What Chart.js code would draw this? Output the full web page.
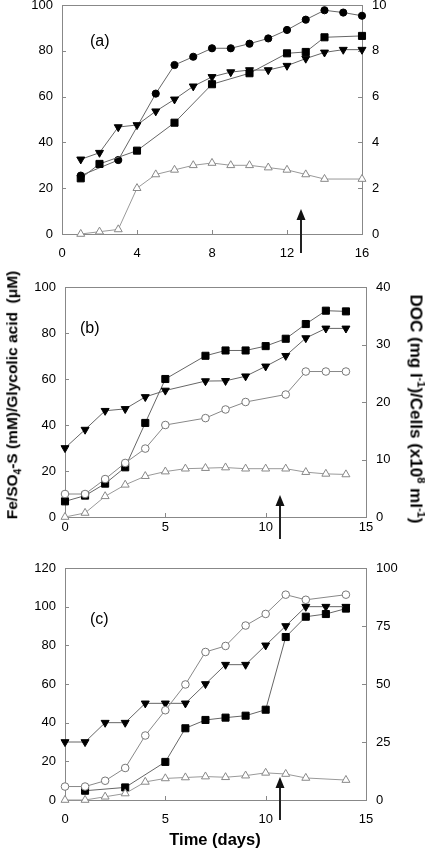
<!DOCTYPE html>
<html>
<head>
<meta charset="utf-8">
<script src="https://cdn.jsdelivr.net/npm/chart.js@4/dist/chart.umd.min.js"></script>
<style>
body { margin: 0; background: #fff; }
#wrap { position: relative; width: 425px; height: 850px; overflow: hidden; background: #fff;
        font-family: 'Liberation Sans', Arial, sans-serif; }
canvas { position: absolute; left: 0; }
.ttl { position: absolute; white-space: nowrap; font-weight: bold; font-size: 15.5px; color: #000;
       line-height: 1; transform-origin: center; }
sub, sup { font-size: 0.65em; line-height: 0; }
#yl { left: 12px; top: 395px; transform: translate(-50%, -50%) rotate(-90deg); }
#yr { left: 416px; top: 409px; font-size: 17px; transform: translate(-50%, -50%) rotate(90deg); }
#xt { left: 215px; top: 839px; font-size: 16.5px; transform: translate(-50%, -50%); }
</style>
</head>
<body>
<div id="wrap">
  <canvas id="ca" width="425" height="289" style="top:-15px"></canvas>
  <canvas id="cb" width="425" height="290" style="top:267px"></canvas>
  <canvas id="cc" width="425" height="292" style="top:548px"></canvas>
  <div class="ttl" id="yl">Fe/SO<sub>4</sub>-S (mM)/Glycolic acid&nbsp; (μM)</div>
  <div class="ttl" id="yr">DOC (mg l<sup>-1</sup>)/Cells (x10<sup>8</sup> ml<sup>-1</sup>)</div>
  <div class="ttl" id="xt">Time (days)</div>
</div>
<script>
// ---- panel (a) ----
const aCircleDays = [1, 3, 5, 6, 7, 8, 9, 10, 11, 12, 13, 14, 15, 16];
const aCircle = [25.5, 32.3, 61.3, 73.8, 77.4, 81.1, 81.1, 83.1, 85.4, 89.1, 93.6, 97.7, 96.7, 95.3];
const aSquareDays = [1, 2, 4, 6, 8, 10, 12, 13, 14, 16];
const aSquare = [24.3, 30.6, 36.4, 48.6, 65.4, 70.2, 78.9, 79.5, 85.9, 86.5];
const aTriDays = [1, 2, 3, 4, 5, 6, 7, 8, 9, 10, 11, 12, 13, 14, 15, 16];
const aTri = [32.6, 35.5, 46.7, 47.6, 53.6, 58.8, 64.5, 68.6, 70.7, 71.6, 71.6, 73.5, 76.6, 79.3, 80.5, 80.5];
const aOpenTriDays = [1, 2, 3, 4, 5, 6, 7, 8, 9, 10, 11, 12, 13, 14, 16];
const aOpenTri = [0, 0.1, 0.2, 2.0, 2.6, 2.8, 3.0, 3.1, 3.0, 3.0, 2.9, 2.8, 2.6, 2.4, 2.4];

// ---- panel (b) ----
const bSquareDays = [0, 1, 2, 3, 4, 5, 7, 8, 9, 10, 11, 12, 13, 14];
const bSquare = [6.8, 9.3, 14.5, 21.6, 40.9, 60.0, 70.1, 72.4, 72.4, 74.3, 77.5, 83.9, 89.7, 89.4];
const bTriDays = [0, 1, 2, 3, 4, 5, 7, 8, 9, 10, 11, 12, 13, 14];
const bTri = [30.0, 38.0, 46.2, 47.0, 52.2, 55.0, 59.1, 59.2, 61.2, 65.5, 70.1, 77.8, 82.0, 82.0];
const bOpenCircleDays = [0, 1, 2, 3, 4, 5, 7, 8, 9, 11, 12, 13, 14];
const bOpenCircle = [4.0, 4.0, 6.6, 9.4, 11.9, 16.0, 17.2, 18.7, 20.0, 21.3, 25.3, 25.3, 25.3];
const bOpenTriDays = [0, 1, 2, 3, 4, 5, 6, 7, 8, 9, 10, 11, 12, 13, 14];
const bOpenTri = [0, 0.7, 3.6, 5.6, 7.1, 7.9, 8.4, 8.5, 8.6, 8.4, 8.4, 8.4, 7.8, 7.5, 7.4];

// ---- panel (c) ----
const cOpenCircleDays = [0, 1, 2, 3, 4, 5, 6, 7, 8, 9, 10, 11, 12, 14];
const cOpenCircle = [5.8, 5.8, 8.3, 13.8, 27.8, 38.7, 49.8, 63.8, 66.4, 75.2, 80.2, 88.5, 86.3, 88.5];
const cTriDays = [0, 1, 2, 3, 4, 5, 6, 7, 8, 9, 10, 11, 12, 13, 14];
const cTri = [30, 30, 40, 40, 50, 50, 50, 60, 70, 70, 80, 90, 100, 100, 100];
const cSquareDays = [1, 3, 5, 6, 7, 8, 9, 10, 11, 12, 13, 14];
const cSquare = [4.8, 6.5, 19.7, 37.1, 41.4, 42.6, 43.6, 46.7, 84.3, 94.8, 96.2, 99.0];
const cOpenTriDays = [0, 1, 2, 3, 4, 5, 6, 7, 8, 9, 10, 11, 12, 14];
const cOpenTri = [0, 0, 1.4, 2.8, 7.8, 9.3, 9.7, 10.1, 9.8, 10.5, 11.7, 11.2, 9.5, 8.6];

const FONT = "'Liberation Sans', Arial, sans-serif";

function pts(days, vals) {
    return days.map((d, i) => ({ x: d, y: vals[i] }));
}

// marker styles
function filledCircle(days, vals) {
    return { data: pts(days, vals), yAxisID: 'y', clip: false, pointStyle: 'circle', pointRadius: 3.6,
             pointBackgroundColor: '#000', pointBorderColor: '#000', borderColor: '#666', borderWidth: 1 };
}
function filledSquare(days, vals) {
    return { data: pts(days, vals), yAxisID: 'y', clip: false, pointStyle: 'rect', pointRadius: 5,
             pointBackgroundColor: '#000', pointBorderColor: '#000', borderColor: '#666', borderWidth: 1 };
}
function filledTriDown(days, vals) {
    return { data: pts(days, vals), yAxisID: 'y', clip: false, pointStyle: 'triangle', pointRotation: 180, pointRadius: 4.6,
             pointBackgroundColor: '#000', pointBorderColor: '#000', borderColor: '#666', borderWidth: 1 };
}
function openTri(days, vals) {
    return { data: pts(days, vals), yAxisID: 'y1', clip: false, pointStyle: 'triangle', pointRadius: 4.6,
             pointBackgroundColor: '#fff', pointBorderColor: '#888', borderColor: '#999', borderWidth: 1 };
}
function openCircle(days, vals) {
    return { data: pts(days, vals), yAxisID: 'y1', clip: false, pointStyle: 'circle', pointRadius: 3.8,
             pointBackgroundColor: '#fff', pointBorderColor: '#777', borderColor: '#888', borderWidth: 1 };
}

// frame, inward ticks, arrow and panel letter
const decor = {
    id: 'decor',
    beforeDatasetsDraw(chart, args, opts) {
        const { ctx, chartArea: a, scales } = chart;
        ctx.save();
        ctx.strokeStyle = '#888';
        ctx.lineWidth = 1;
        ctx.strokeRect(Math.round(a.left) + 0.5, Math.round(a.top) + 0.5,
                       Math.round(a.right - a.left), Math.round(a.bottom - a.top));
        ctx.beginPath();
        scales.x.ticks.forEach(t => {
            const px = Math.round(scales.x.getPixelForValue(t.value)) + 0.5;
            ctx.moveTo(px, a.bottom); ctx.lineTo(px, a.bottom - 4);
        });
        scales.y.ticks.forEach(t => {
            const py = Math.round(scales.y.getPixelForValue(t.value)) + 0.5;
            ctx.moveTo(a.left, py); ctx.lineTo(a.left + 4, py);
        });
        scales.y1.ticks.forEach(t => {
            const py = Math.round(scales.y1.getPixelForValue(t.value)) + 0.5;
            ctx.moveTo(a.right, py); ctx.lineTo(a.right - 4, py);
        });
        ctx.stroke();
        ctx.restore();
    },
    afterDraw(chart, args, opts) {
        const { ctx, chartArea: a, scales } = chart;
        ctx.save();
        const x = Math.round(scales.x.getPixelForValue(opts.arrowDay));
        const tip = a.bottom - opts.up;
        const tail = a.bottom + opts.down;
        ctx.strokeStyle = '#222';
        ctx.lineWidth = 2;
        ctx.beginPath();
        ctx.moveTo(x, tail); ctx.lineTo(x, tip + 8);
        ctx.stroke();
        ctx.fillStyle = '#111';
        ctx.beginPath();
        ctx.moveTo(x, tip); ctx.lineTo(x - 4.5, tip + 11); ctx.lineTo(x + 4.5, tip + 11);
        ctx.closePath();
        ctx.fill();
        ctx.fillStyle = '#000';
        ctx.font = '16px ' + FONT;
        ctx.textBaseline = 'middle';
        ctx.textAlign = 'left';
        ctx.fillText(opts.label, a.left + opts.lx, a.top + opts.ly);
        ctx.restore();
    }
};

function makeChart(id, p) {
    const ctx = document.getElementById(id).getContext('2d');
    return new Chart(ctx, {
        type: 'line',
        data: { datasets: p.datasets },
        options: {
            responsive: false,
            animation: false,
            layout: { padding: { top: 20, left: 0, right: 0, bottom: 0 } },
            plugins: { legend: { display: false }, tooltip: { enabled: false },
                       decor: p.decor },
            scales: {
                x: {
                    type: 'linear', min: 0, max: p.xMax,
                    grid: { display: false, drawTicks: false }, border: { display: false },
                    ticks: { stepSize: p.xStep, padding: p.xPad, color: '#000', font: { family: FONT, size: 13 } },
                    afterFit(s) { s.height = 40; }
                },
                y: {
                    position: 'left', min: 0, max: p.yMax,
                    grid: { display: false, drawTicks: false }, border: { display: false },
                    ticks: { stepSize: p.yStep, padding: 9, color: '#000', font: { family: FONT, size: 13 } },
                    afterFit(s) { s.width = p.left; }
                },
                y1: {
                    position: 'right', min: 0, max: p.y1Max,
                    grid: { display: false, drawTicks: false }, border: { display: false },
                    ticks: { stepSize: p.y1Step, padding: 10, color: '#000', font: { family: FONT, size: 13 } },
                    afterFit(s) { s.width = 425 - p.right; }
                }
            }
        },
        plugins: [decor]
    });
}

makeChart('ca', {
    datasets: [openTri(aOpenTriDays, aOpenTri), filledSquare(aSquareDays, aSquare),
               filledTriDown(aTriDays, aTri), filledCircle(aCircleDays, aCircle)],
    xMax: 16, xStep: 4, xPad: 12, yMax: 100, yStep: 20, y1Max: 10, y1Step: 2,
    left: 62, right: 362,
    decor: { arrowDay: 12.75, up: 25, down: 19, label: '(a)', lx: 28, ly: 37 }
});

makeChart('cb', {
    datasets: [openTri(bOpenTriDays, bOpenTri), openCircle(bOpenCircleDays, bOpenCircle),
               filledTriDown(bTriDays, bTri), filledSquare(bSquareDays, bSquare)],
    xMax: 15, xStep: 5, xPad: 3, yMax: 100, yStep: 20, y1Max: 40, y1Step: 10,
    left: 65, right: 366,
    decor: { arrowDay: 10.7, up: 22, down: 22, label: '(b)', lx: 15, ly: 42 }
});

makeChart('cc', {
    datasets: [openTri(cOpenTriDays, cOpenTri), openCircle(cOpenCircleDays, cOpenCircle),
               filledTriDown(cTriDays, cTri), filledSquare(cSquareDays, cSquare)],
    xMax: 15, xStep: 5, xPad: 12, yMax: 120, yStep: 20, y1Max: 100, y1Step: 25,
    left: 65, right: 366,
    decor: { arrowDay: 10.7, up: 23, down: 20, label: '(c)', lx: 25, ly: 52 }
});
</script>
</body>
</html>
